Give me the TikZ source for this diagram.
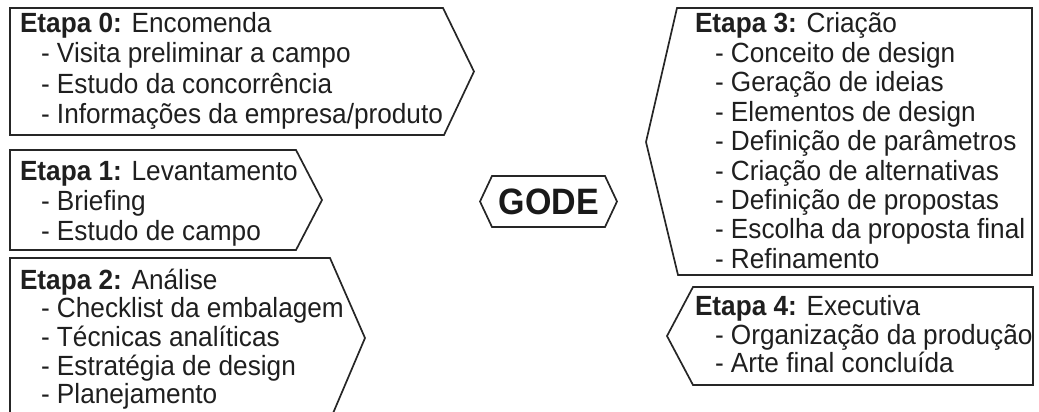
\documentclass[tikz,border=0pt]{standalone}
\usepackage{fontspec}
\usepackage{graphicx}
\setmainfont{Liberation Sans}
\newcommand\stfont{\fontsize{26.2}{29}\selectfont}
\newcommand\godefont{\fontsize{34}{38}\selectfont\bfseries}
\newcommand\tx[1]{\scalebox{1}[1.06]{#1}}
\tikzset{
  stagebox/.style={draw=black!85, line width=1.7pt, line join=miter},
  lbl/.style={anchor=base west, inner sep=0pt, outer sep=0pt, font=\stfont, text=black!88},
}
\begin{document}
\begin{tikzpicture}[x=1pt, y=-1pt]
\useasboundingbox (0,0) rectangle (1039,412);
\begin{scope}
\clip (0,0) rectangle (1039,412);
% Stage boxes
\draw[stagebox] (10,8) -- (443,8) -- (474,71.5) -- (444,135) -- (10,135) -- cycle;
\draw[stagebox] (10,150) -- (296,150) -- (322,200) -- (296,250) -- (10,250) -- cycle;
\draw[stagebox] (10,258) -- (330,258) -- (365,338) -- (331,418) -- (10,418) -- cycle;
\draw[stagebox] (1032,8) -- (677,8) -- (646,142) -- (678,275) -- (1032,275) -- cycle;
\draw[stagebox] (1033,287) -- (693,287) -- (667,336) -- (693,385) -- (1033,385) -- cycle;
% GODE hexagon
\draw[stagebox] (492,176) -- (605,176) -- (617,201.5) -- (605,227) -- (492,227) -- (480,201.5) -- cycle;
\end{scope}
\node[inner sep=0pt, font=\godefont, text=black!90] (gode) at (549,201.5) {\scalebox{1}[1.08]{GODE}};
% Etapa 0
\node[lbl] (s0t) at (20,33) {\tx{\textbf{Etapa 0:} Encomenda}};
\node[lbl] (s0a) at (41,63) {\tx{- Visita preliminar a campo}};
\node[lbl] (s0b) at (41,93) {\tx{- Estudo da concorrência}};
\node[lbl] (s0c) at (41,123) {\tx{- Informações da empresa/produto}};
% Etapa 1
\node[lbl] (s1t) at (20,180) {\tx{\textbf{Etapa 1:} Levantamento}};
\node[lbl] (s1a) at (41,210) {\tx{- Briefing}};
\node[lbl] (s1b) at (41,240) {\tx{- Estudo de campo}};
% Etapa 2
\node[lbl] (s2t) at (20,289) {\tx{\textbf{Etapa 2:} Análise}};
\node[lbl] (s2a) at (41,317.7) {\tx{- Checklist da embalagem}};
\node[lbl] (s2b) at (41,346.4) {\tx{- Técnicas analíticas}};
\node[lbl] (s2c) at (41,375.1) {\tx{- Estratégia de design}};
\node[lbl] (s2d) at (41,403.8) {\tx{- Planejamento}};
% Etapa 3
\node[lbl] (s3t) at (695,33) {\tx{\textbf{Etapa 3:} Criação}};
\node[lbl] (s3a) at (715,62.4) {\tx{- Conceito de design}};
\node[lbl] (s3b) at (715,91.8) {\tx{- Geração de ideias}};
\node[lbl] (s3c) at (715,121.2) {\tx{- Elementos de design}};
\node[lbl] (s3d) at (715,150.6) {\tx{- Definição de parâmetros}};
\node[lbl] (s3e) at (715,180) {\tx{- Criação de alternativas}};
\node[lbl] (s3f) at (715,209.4) {\tx{- Definição de propostas}};
\node[lbl] (s3g) at (715,238.8) {\tx{- Escolha da proposta final}};
\node[lbl] (s3h) at (715,268.2) {\tx{- Refinamento}};
% Etapa 4
\node[lbl] (s4t) at (695,315) {\tx{\textbf{Etapa 4:} Executiva}};
\node[lbl] (s4a) at (715,344) {\tx{- Organização da produção}};
\node[lbl] (s4b) at (715,372.5) {\tx{- Arte final concluída}};
\end{tikzpicture}
\end{document}
